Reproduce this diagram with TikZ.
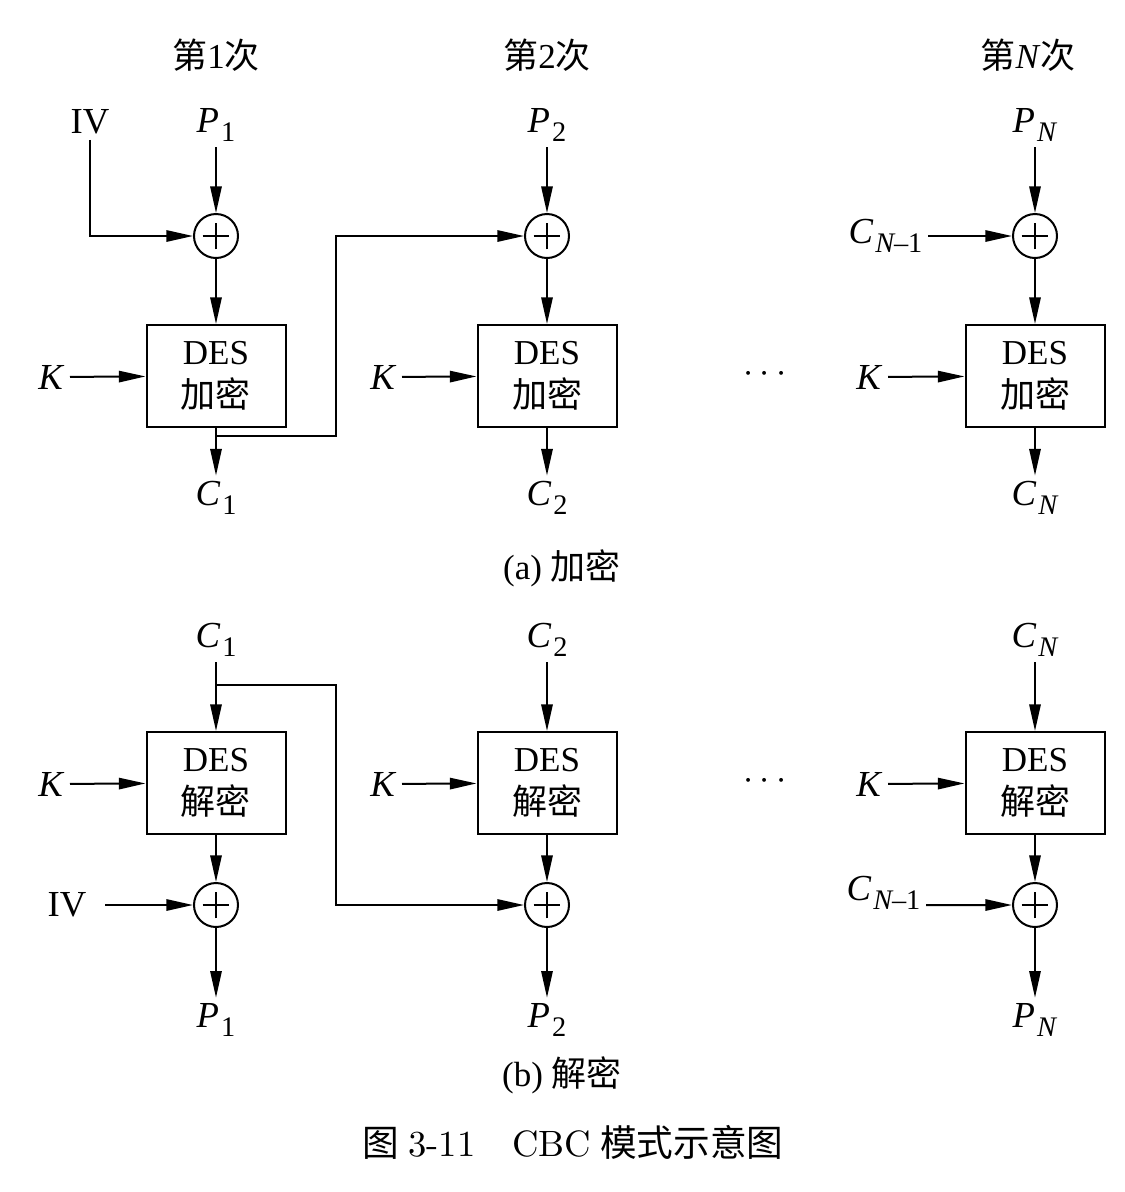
\documentclass[tikz,border=0pt]{standalone}
\usepackage{fontspec}
\setmainfont{Liberation Serif}
\newfontfamily\cjk{Noto Sans CJK SC}
\newfontfamily\lmfont{Latin Modern Roman}
\usetikzlibrary{arrows.meta, calc}
\newcommand{\vsub}[2]{\textit{#1}\kern0.6pt\raisebox{-0.55ex}{\fontsize{8.5}{9}\selectfont #2}}
\tikzset{
  lbl/.style  = {inner sep=1.5pt, font=\fontsize{11}{13}\selectfont},
  hdr/.style  = {inner sep=1pt, font=\fontsize{10.5}{12}\selectfont},
  desbox/.style = {rectangle, draw, line width=0.6pt, minimum width=41.7pt,
                   minimum height=30.6pt, align=center, inner sep=0pt,
                   font=\fontsize{10.5}{13}\selectfont},
  xor/.style  = {circle, draw, line width=0.6pt, minimum size=13.2pt, inner sep=0pt,
                 path picture={
                   \draw[line width=0.4pt] ([xshift=-4pt]path picture bounding box.center)
                     -- ([xshift=4pt]path picture bounding box.center);
                   \draw[line width=0.4pt] ([yshift=-4pt]path picture bounding box.center)
                     -- ([yshift=4pt]path picture bounding box.center);}},
  flow/.style = {-{Triangle[length=8pt,width=3.4pt]}, line width=0.6pt},
  wire/.style = {line width=0.6pt},
}
\begin{document}
\begin{tikzpicture}[x=0.3pt, y=-0.3pt]
  \useasboundingbox (0,0) rectangle (1125,1192);

  % (a) encryption
  \node[hdr] (h1) at (216,55) {{\cjk 第}1{\cjk 次}};
  \node[hdr] (h2) at (547,55) {{\cjk 第}2{\cjk 次}};
  \node[hdr] (hN) at (1028,55) {{\cjk 第}\textit{N}{\cjk 次}};

  \node[lbl] (ivA) at (90,122) {IV};
  \node[lbl] (pA1) at (216,125) {\vsub{P}{1}};
  \node[lbl] (pA2) at (547,125) {\vsub{P}{2}};
  \node[lbl] (pAN) at (1035,125) {\vsub{P}{\textit{N}}};

  \node[xor] (xA1) at (216,236) {};
  \node[xor] (xA2) at (547,236) {};
  \node[xor] (xAN) at (1035,236) {};
  \node[lbl, anchor=east] (cmA) at (928,236) {\vsub{C}{\textit{N}\kern-0.5pt–1}};

  \node[desbox] (eA1) at (216,376) {DES\\{\cjk 加密}};
  \node[desbox] (eA2) at (547,376) {DES\\{\cjk 加密}};
  \node[desbox] (eAN) at (1035,376) {DES\\{\cjk 加密}};

  \node[lbl, anchor=east] (kA1) at (70,377) {\textit{K}};
  \node[lbl, anchor=east] (kA2) at (402,377) {\textit{K}};
  \node[lbl, anchor=east] (kAN) at (888,377) {\textit{K}};
  \node[lbl] (dotA) at (765,374) {$\cdots$};

  \node[lbl] (cA1) at (216,498) {\vsub{C}{1}};
  \node[lbl] (cA2) at (547,498) {\vsub{C}{2}};
  \node[lbl] (cAN) at (1035,498) {\vsub{C}{\textit{N}}};
  \coordinate (tA1) at (216,436);

  \draw[flow] (pA1) -- (xA1);
  \draw[flow] (pA2) -- (xA2);
  \draw[flow] (pAN) -- (xAN);
  \draw[flow] (ivA.south) |- (xA1.west);
  \draw[flow] (cmA) -- (xAN);
  \draw[flow] (xA1) -- (eA1);
  \draw[flow] (xA2) -- (eA2);
  \draw[flow] (xAN) -- (eAN);
  \draw[flow] (kA1) -- (eA1);
  \draw[flow] (kA2) -- (eA2);
  \draw[flow] (kAN) -- (eAN);
  \draw[flow] (eA1) -- (cA1);
  \draw[flow] (eA2) -- (cA2);
  \draw[flow] (eAN) -- (cAN);
  \draw[flow] (tA1) -- ++(120,0) |- (xA2.west);

  \node[hdr] (capA) at (562,568) {(a) {\cjk 加密}};

  % (b) decryption
  \node[lbl] (cB1) at (216,640) {\vsub{C}{1}};
  \node[lbl] (cB2) at (547,640) {\vsub{C}{2}};
  \node[lbl] (cBN) at (1035,640) {\vsub{C}{\textit{N}}};

  \node[desbox] (dB1) at (216,783) {DES\\{\cjk 解密}};
  \node[desbox] (dB2) at (547,783) {DES\\{\cjk 解密}};
  \node[desbox] (dBN) at (1035,783) {DES\\{\cjk 解密}};

  \node[lbl, anchor=east] (kB1) at (70,784) {\textit{K}};
  \node[lbl, anchor=east] (kB2) at (402,784) {\textit{K}};
  \node[lbl, anchor=east] (kBN) at (888,784) {\textit{K}};
  \node[lbl] (dotB) at (765,781) {$\cdots$};

  \node[xor] (xB1) at (216,905) {};
  \node[xor] (xB2) at (547,905) {};
  \node[xor] (xBN) at (1035,905) {};
  \node[lbl, anchor=east] (ivB) at (92,905) {IV};
  \node[lbl, anchor=east] (cmB) at (926,893) {\vsub{C}{\textit{N}\kern-0.5pt–1}};

  \node[lbl] (pB1) at (216,1020) {\vsub{P}{1}};
  \node[lbl] (pB2) at (547,1020) {\vsub{P}{2}};
  \node[lbl] (pBN) at (1035,1020) {\vsub{P}{\textit{N}}};
  \coordinate (tB1) at (216,685);

  \draw[flow] (cB1) -- (dB1);
  \draw[flow] (cB2) -- (dB2);
  \draw[flow] (cBN) -- (dBN);
  \draw[flow] (kB1) -- (dB1);
  \draw[flow] (kB2) -- (dB2);
  \draw[flow] (kBN) -- (dBN);
  \draw[flow] (dB1) -- (xB1);
  \draw[flow] (dB2) -- (xB2);
  \draw[flow] (dBN) -- (xBN);
  \draw[flow] ([xshift=4pt]ivB.east) -- (xB1);
  \draw[flow] ([yshift=-3.6pt]cmB.east) -- (xBN);
  \draw[flow] (xB1) -- (pB1);
  \draw[flow] (xB2) -- (pB2);
  \draw[flow] (xBN) -- (pBN);
  \draw[flow] (tB1) -- ++(120,0) |- (xB2.west);

  \node[hdr] (capB) at (562,1075) {(b) {\cjk 解密}};

  \node[hdr, font=\fontsize{11}{13}\selectfont] (fig) at (573,1142)
    {{\cjk 图} {\lmfont 3-11}\quad{\lmfont CBC} {\cjk 模式示意图}};
\end{tikzpicture}
\end{document}
